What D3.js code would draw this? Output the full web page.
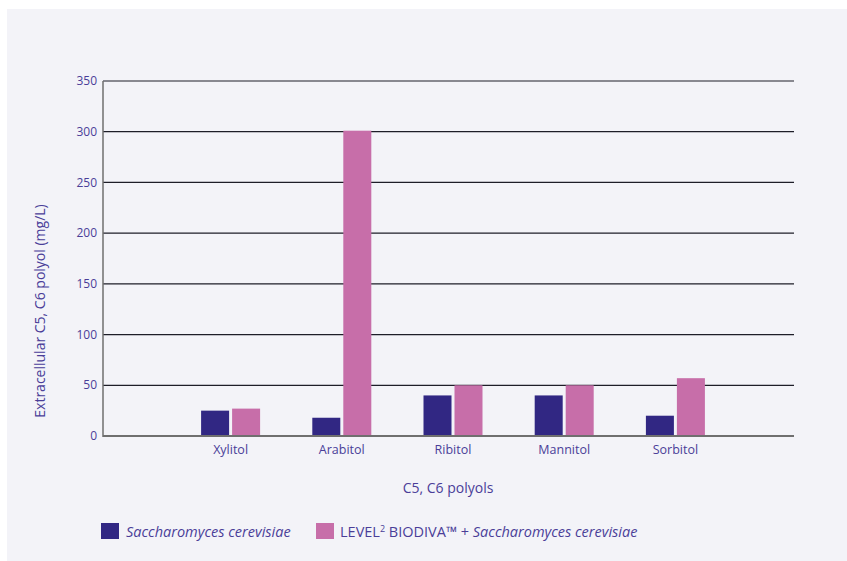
<!DOCTYPE html>
<html><head><meta charset="utf-8">
<script src="https://cdn.jsdelivr.net/npm/d3@7/dist/d3.min.js"></script>
<style>body{margin:0;background:#fff;}svg{display:block;}</style>
</head><body><svg id="c" width="847" height="561"></svg>
<script>
const categories = ["Xylitol","Arabitol","Ribitol","Mannitol","Sorbitol"];
const seriesNames = ["Saccharomyces cerevisiae","LEVEL² BIODIVA™ + Saccharomyces cerevisiae"];
const yeastOnly = [25, 18, 40, 40, 20];
const biodivaPlusYeast = [27, 301, 50, 50, 57];
const yTicks = [0,50,100,150,200,250,300,350];
const colors = ["#312783","#c76ea9"];
const textColor = "#4a3e98";
const font = "'Open Sans', sans-serif";

const svg = d3.select("#c");
svg.append("rect").attr("x",7).attr("y",9).attr("width",840).attr("height",552).attr("fill","#f3f3f8");

const pLeft = 103, pRight = 794, pTop = 81, pBottom = 436;
const y = d3.scaleLinear().domain([0,350]).range([pBottom, pTop]);
const x = d3.scaleBand().domain(categories).range([175, 731]).paddingInner(0).paddingOuter(0);
const bw = 28, gap = 3;

// gridlines
svg.append("g").selectAll("line").data(yTicks.filter(d=>d>0)).join("line")
  .attr("x1", pLeft).attr("x2", pRight).attr("y1", d=>y(d)).attr("y2", d=>y(d))
  .attr("stroke","#1e1e28").attr("stroke-width",1.2);

// bars
const series = [yeastOnly, biodivaPlusYeast];
series.forEach((vals, si) => {
  svg.append("g").selectAll("rect").data(categories).join("rect")
    .attr("x", d => x(d) + x.bandwidth()/2 + (si===0 ? -gap/2 - bw : gap/2))
    .attr("width", bw)
    .attr("y", (d,i) => y(vals[i]))
    .attr("height", (d,i) => y(0) - y(vals[i]))
    .attr("fill", colors[si]);
});

// axes lines
svg.append("line").attr("x1",pLeft).attr("x2",pLeft).attr("y1",pTop).attr("y2",pBottom+1)
  .attr("stroke","#6f6f6f").attr("stroke-width",1.5);
svg.append("line").attr("x1",pLeft).attr("x2",pRight).attr("y1",pBottom).attr("y2",pBottom)
  .attr("stroke","#6f6f6f").attr("stroke-width",2);

// y tick labels
svg.append("g").selectAll("text").data(yTicks).join("text")
  .attr("x", pLeft-6).attr("y", d=>y(d)).attr("dy","0.35em")
  .attr("text-anchor","end").attr("font-family",font).attr("font-size",12)
  .attr("fill",textColor).text(d=>d);

// category labels
svg.append("g").selectAll("text").data(categories).join("text")
  .attr("x", d=>x(d)+x.bandwidth()/2).attr("y", 454)
  .attr("text-anchor","middle").attr("font-family",font).attr("font-size",12.5)
  .attr("fill",textColor).text(d=>d);

// axis titles
svg.append("text").attr("x", 448).attr("y", 493).attr("text-anchor","middle")
  .attr("font-family",font).attr("font-size",14).attr("fill",textColor).text("C5, C6 polyols");
svg.append("text").attr("transform","translate(45,311) rotate(-90)").attr("text-anchor","middle")
  .attr("font-family",font).attr("font-size",14).attr("fill",textColor)
  .text("Extracellular C5, C6 polyol (mg/L)");

// legend
const lg = svg.append("g");
lg.append("rect").attr("x",101).attr("y",523).attr("width",18).attr("height",16).attr("fill",colors[0]);
lg.append("text").attr("x",126).attr("y",537).attr("font-family",font).attr("font-size",14.5)
  .attr("font-style","italic").attr("fill",textColor).text(seriesNames[0]);
lg.append("rect").attr("x",316).attr("y",523).attr("width",18).attr("height",16).attr("fill",colors[1]);
const t2 = lg.append("text").attr("x",340).attr("y",537).attr("font-family",font).attr("font-size",14.5).attr("fill",textColor);
t2.append("tspan").text("LEVEL");
t2.append("tspan").attr("font-size",9).attr("dy",-5).text("2");
t2.append("tspan").attr("dy",5).text(" BIODIVA™ + ");
t2.append("tspan").attr("font-style","italic").text("Saccharomyces cerevisiae");
</script></body></html>
